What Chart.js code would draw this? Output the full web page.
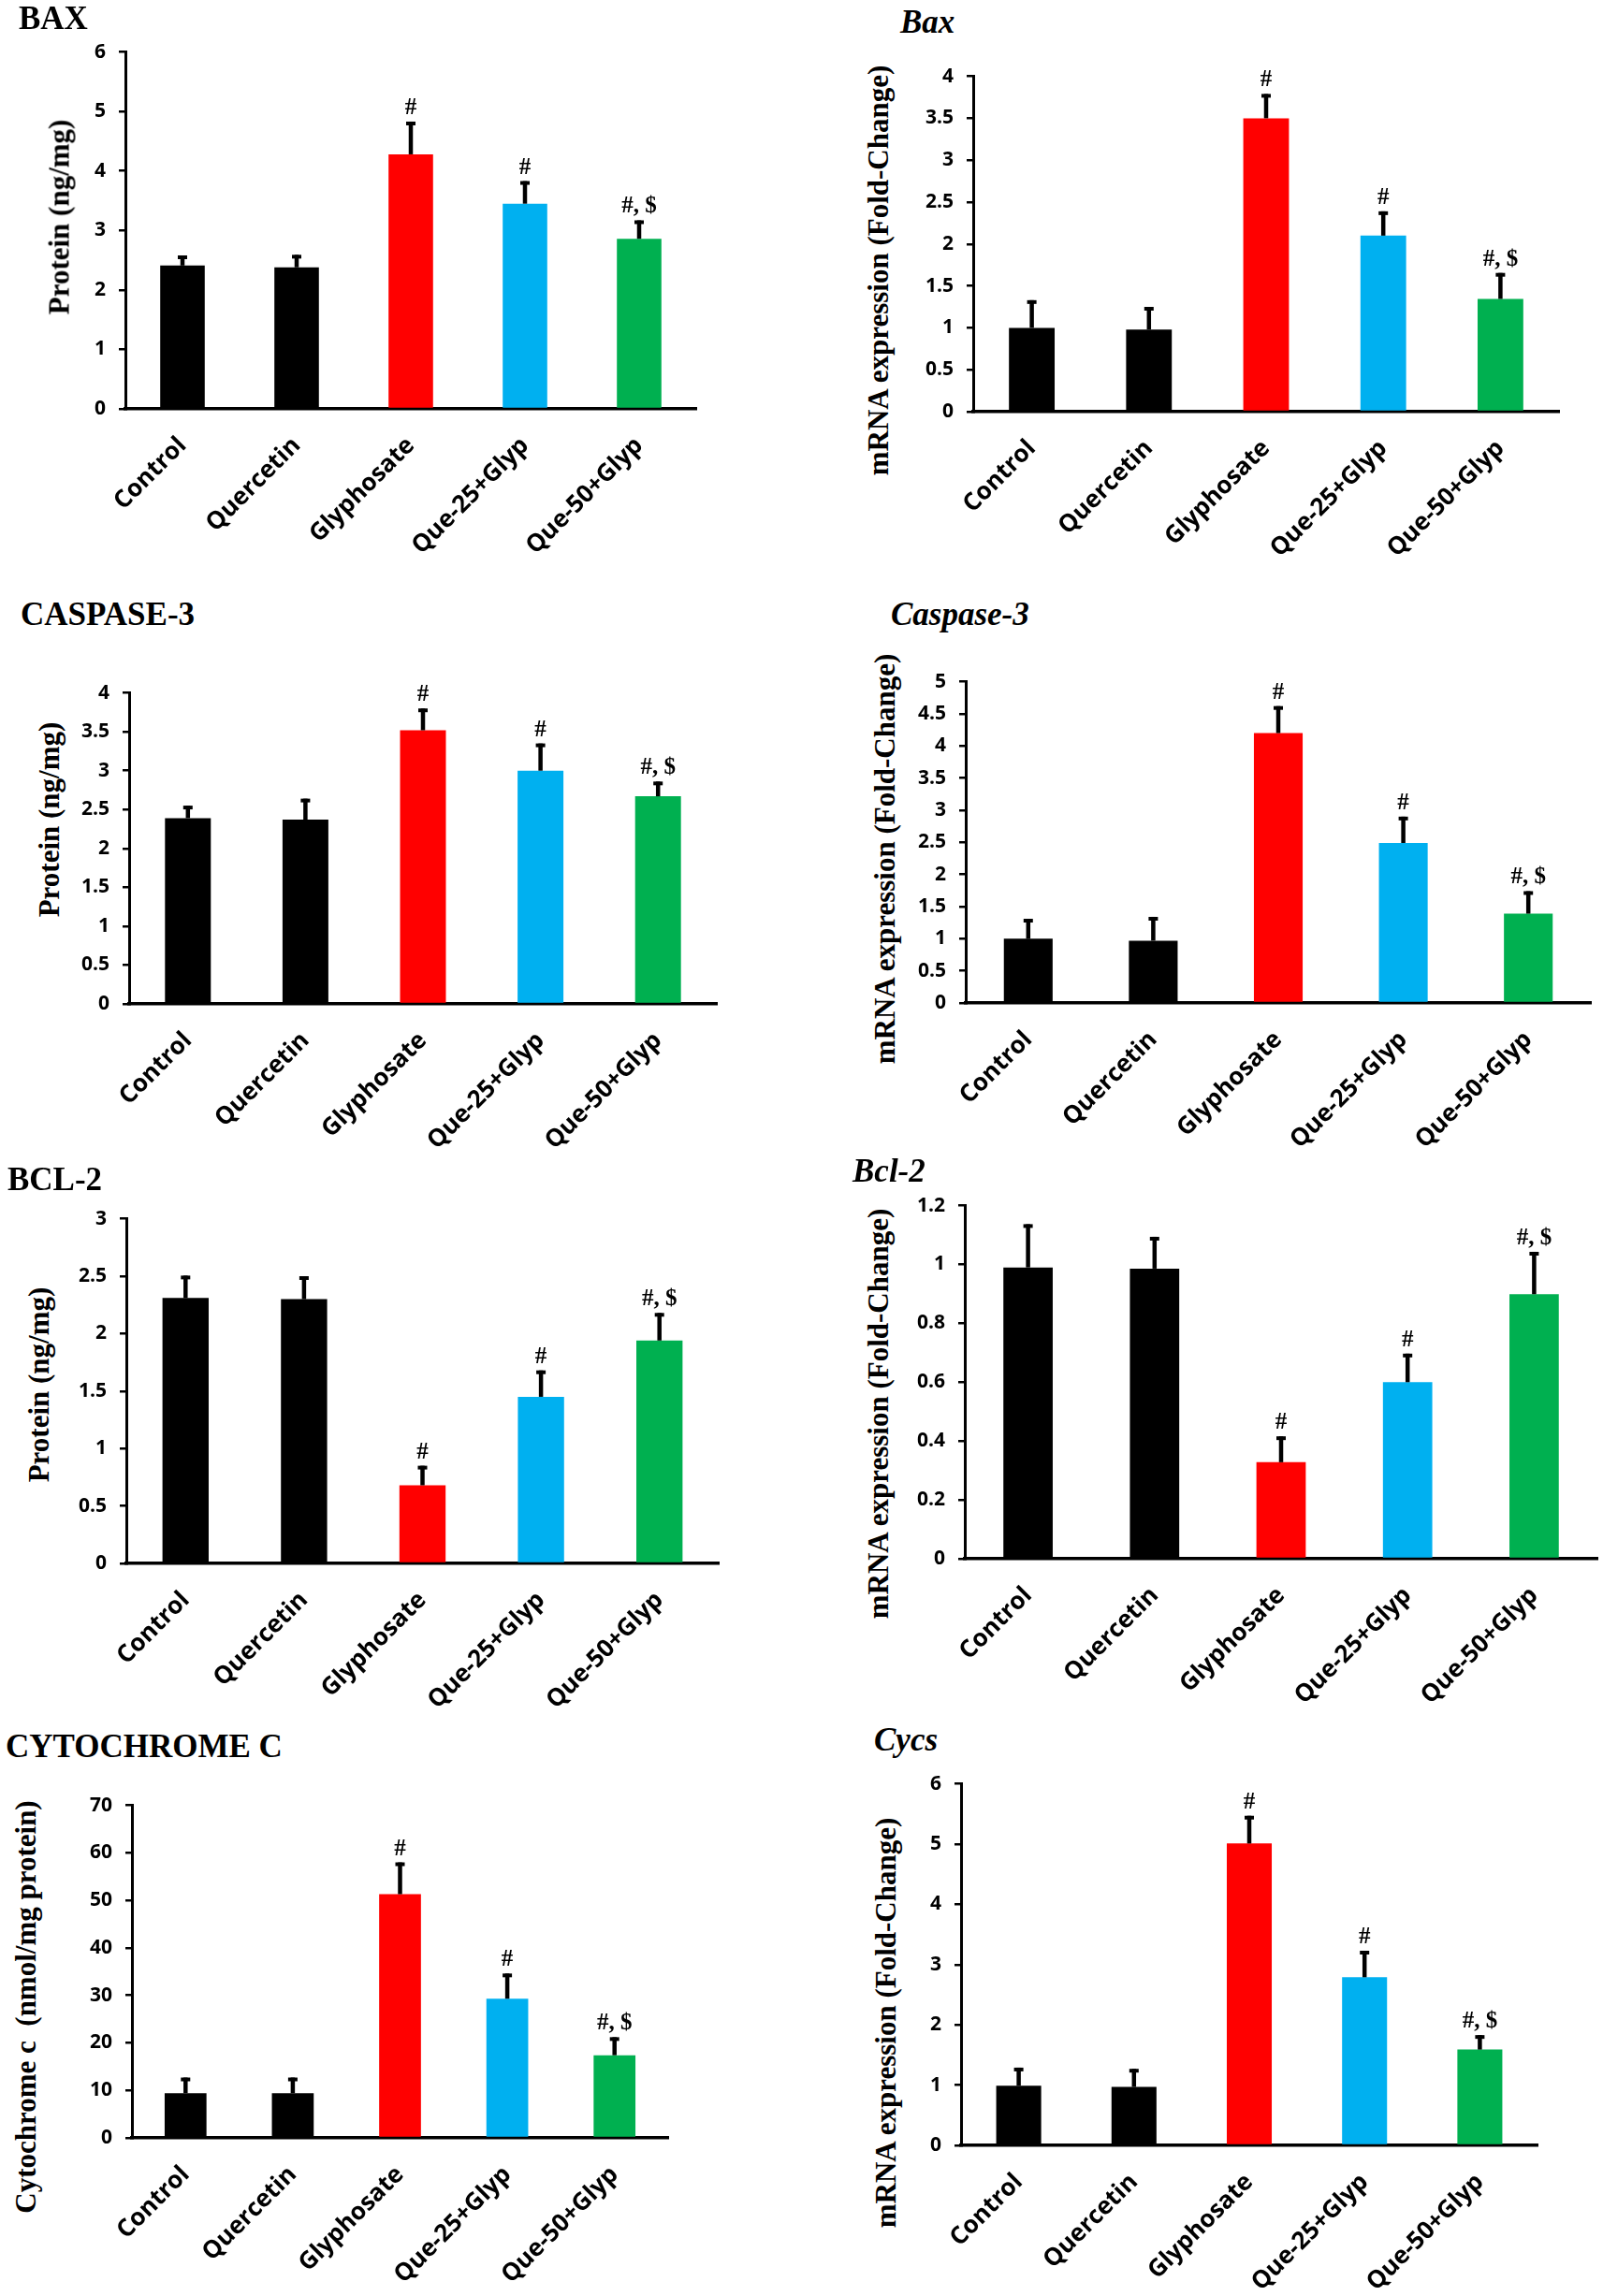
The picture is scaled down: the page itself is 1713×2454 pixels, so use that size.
<!DOCTYPE html>
<html>
<head>
<meta charset="utf-8">
<script src="https://cdn.jsdelivr.net/npm/chart.js@4.4.1/dist/chart.umd.min.js"></script>
<style>
  body { margin: 0; background: #fff; }
  #page { position: relative; width: 1713px; height: 2454px; overflow: hidden; background: #fff; }
  #page canvas { position: absolute; }
  .ptitle {
    position: absolute; color: #000; white-space: nowrap; line-height: 1;
    font-family: "Liberation Serif", "Times New Roman", serif; font-weight: bold; font-size: 35px;
  }
  .ytitle {
    position: absolute; color: #000; white-space: pre; line-height: 1;
    font-family: "Liberation Serif", "Times New Roman", serif; font-weight: bold; font-size: 31px;
    transform: translate(-50%, -50%) rotate(-90deg);
  }
</style>
</head>
<body>
<div id="page"></div>
<script>
// groups on the x axis, same for every panel
const groups = ['Control', 'Quercetin', 'Glyphosate', 'Que-25+Glyp', 'Que-50+Glyp'];
const markers = ['', '', '#', '#', '#, $'];

// means and error (upper bar only)
const baxProtein = [2.41, 2.38, 4.28, 3.45, 2.86];
const baxProteinErr = [0.17, 0.21, 0.55, 0.38, 0.31];
const baxMrna = [1.0, 0.98, 3.5, 2.1, 1.345];
const baxMrnaErr = [0.33, 0.27, 0.29, 0.29, 0.31];

const caspProtein = [2.39, 2.37, 3.52, 3.0, 2.67];
const caspProteinErr = [0.16, 0.27, 0.28, 0.35, 0.19];
const caspMrna = [1.0, 0.97, 4.2, 2.49, 1.39];
const caspMrnaErr = [0.31, 0.37, 0.42, 0.41, 0.35];

const bclProtein = [2.31, 2.30, 0.68, 1.45, 1.94];
const bclProteinErr = [0.195, 0.20, 0.17, 0.23, 0.24];
const bclMrna = [0.99, 0.986, 0.328, 0.60, 0.899];
const bclMrnaErr = [0.147, 0.108, 0.088, 0.097, 0.144];

const cytoProtein = [9.4, 9.4, 51.3, 29.3, 17.4];
const cytoProteinErr = [3.3, 3.3, 6.7, 5.3, 3.8];
const cycsMrna = [0.99, 0.97, 5.01, 2.79, 1.59];
const cycsMrnaErr = [0.30, 0.30, 0.46, 0.44, 0.24];

// y axis ranges
const yMax = [6, 4, 4, 5, 3, 1.2, 70, 6];
const yStep = [1, 0.5, 0.5, 0.5, 0.5, 0.2, 10, 1];

const barColors = ['#000000', '#000000', '#ff0000', '#00b0f0', '#00b050'];

// layout: plot area [left, top, right, bottom] in page pixels
const panels = [
  { title: 'BAX', italic: false, tx: 20, ty: 31, ytitle: 'Protein (ng/mg)', yx: 63, yy: 232,
    values: baxProtein, errors: baxProteinErr, area: [134, 48.6, 744, 436.6] },
  { title: 'Bax', italic: true, tx: 962, ty: 35, ytitle: 'mRNA expression (Fold-Change)', yx: 938, yy: 289,
    values: baxMrna, errors: baxMrnaErr, area: [1040, 74.7, 1666, 440] },
  { title: 'CASPASE-3', italic: false, tx: 22, ty: 668, ytitle: 'Protein (ng/mg)', yx: 52, yy: 876,
    values: caspProtein, errors: caspProteinErr, area: [137.5, 733.7, 766, 1073] },
  { title: 'Caspase-3', italic: true, tx: 952, ty: 668, ytitle: 'mRNA expression (Fold-Change)', yx: 945, yy: 918,
    values: caspMrna, errors: caspMrnaErr, area: [1032, 721.7, 1700, 1072.2] },
  { title: 'BCL-2', italic: false, tx: 8, ty: 1272, ytitle: 'Protein (ng/mg)', yx: 41, yy: 1480,
    values: bclProtein, errors: bclProteinErr, area: [135, 1296.2, 767.5, 1671.3] },
  { title: 'Bcl-2', italic: true, tx: 911, ty: 1263, ytitle: 'mRNA expression (Fold-Change)', yx: 938, yy: 1511,
    values: bclMrna, errors: bclMrnaErr, area: [1031, 1281.5, 1706.5, 1666.2] },
  { title: 'CYTOCHROME C', italic: false, tx: 6, ty: 1878, ytitle: 'Cytochrome c  (nmol/mg protein)', yx: 27, yy: 2145,
    values: cytoProtein, errors: cytoProteinErr, area: [141, 1923.1, 714.3, 2284.5] },
  { title: 'Cycs', italic: true, tx: 934, ty: 1871, ytitle: 'mRNA expression (Fold-Change)', yx: 946, yy: 2162,
    values: cycsMrna, errors: cycsMrnaErr, area: [1027, 1900, 1643, 2293.2] }
];

const Y_W = 60;      // width kept for the y scale box
const X_H = 170;     // height kept for the rotated category labels
const PAD_TOP = 20;
const PAD_RIGHT = 6;
const SANS = '"Open Sans", Lato, sans-serif';

// draws upper error bars and the significance marks
const errorBarPlugin = {
  id: 'errorBars',
  afterDatasetsDraw(chart, args, opts) {
    const ctx = chart.ctx;
    const y = chart.scales.y;
    const meta = chart.getDatasetMeta(0);
    const data = chart.data.datasets[0].data;
    ctx.save();
    ctx.fillStyle = '#000';
    meta.data.forEach((bar, i) => {
      const top = y.getPixelForValue(data[i] + opts.errors[i]);
      ctx.fillRect(bar.x - 2.25, top, 4.5, bar.y - top);
      ctx.fillRect(bar.x - 5, top, 10, 4);
      if (opts.markers[i]) {
        ctx.font = 'bold 25px "Liberation Serif", serif';
        ctx.textAlign = 'center';
        ctx.textBaseline = 'alphabetic';
        ctx.fillText(opts.markers[i], bar.x, top - 8);
      }
    });
    ctx.restore();
  }
};

const page = document.getElementById('page');

panels.forEach((p, k) => {
  const [left, top, right, bottom] = p.area;
  const L = Math.round(left - Y_W);
  const T = Math.round(top - PAD_TOP);
  const W = Math.round(right + PAD_RIGHT) - L;
  const H = Math.round(bottom + X_H) - T;

  const canvas = document.createElement('canvas');
  canvas.width = W;
  canvas.height = H;
  canvas.style.left = L + 'px';
  canvas.style.top = T + 'px';
  canvas.style.width = W + 'px';
  canvas.style.height = H + 'px';
  page.appendChild(canvas);

  const t = document.createElement('div');
  t.className = 'ptitle';
  t.textContent = p.title;
  if (p.italic) t.style.fontStyle = 'italic';
  t.style.left = p.tx + 'px';
  t.style.top = (p.ty - 0.8375 * 35) + 'px';
  page.appendChild(t);

  const yt = document.createElement('div');
  yt.className = 'ytitle';
  yt.textContent = p.ytitle;
  yt.style.left = p.yx + 'px';
  yt.style.top = p.yy + 'px';
  page.appendChild(yt);

  new Chart(canvas.getContext('2d'), {
    type: 'bar',
    data: {
      labels: groups,
      datasets: [{
        data: p.values,
        backgroundColor: barColors,
        borderWidth: 0,
        categoryPercentage: 1,
        barPercentage: 0.39
      }]
    },
    plugins: [errorBarPlugin],
    options: {
      responsive: false,
      animation: false,
      devicePixelRatio: 1,
      layout: { padding: { top: PAD_TOP, right: PAD_RIGHT, left: 0, bottom: 0 } },
      plugins: {
        legend: { display: false },
        title: { display: false },
        tooltip: { enabled: false },
        errorBars: { errors: p.errors, markers: markers }
      },
      scales: {
        x: {
          grid: { display: false, drawTicks: false },
          border: { display: true, color: '#000', width: 3.5 },
          ticks: {
            autoSkip: false,
            minRotation: 45,
            maxRotation: 45,
            padding: 24,
            color: '#000',
            font: { family: SANS, weight: 'bold', size: 26 }
          },
          afterFit: (scale) => { scale.height = X_H; }
        },
        y: {
          min: 0,
          max: yMax[k],
          grid: { drawOnChartArea: false, drawTicks: true, tickLength: 7, color: '#000', lineWidth: 2.5 },
          border: { display: true, color: '#000', width: 3 },
          ticks: {
            stepSize: yStep[k],
            padding: 14,
            color: '#000',
            font: { family: SANS, weight: 'bold', size: 21 },
            callback: (v) => String(+Number(v).toFixed(2))
          },
          afterFit: (scale) => { scale.width = Y_W; }
        }
      }
    }
  });
});
</script>
</body>
</html>
